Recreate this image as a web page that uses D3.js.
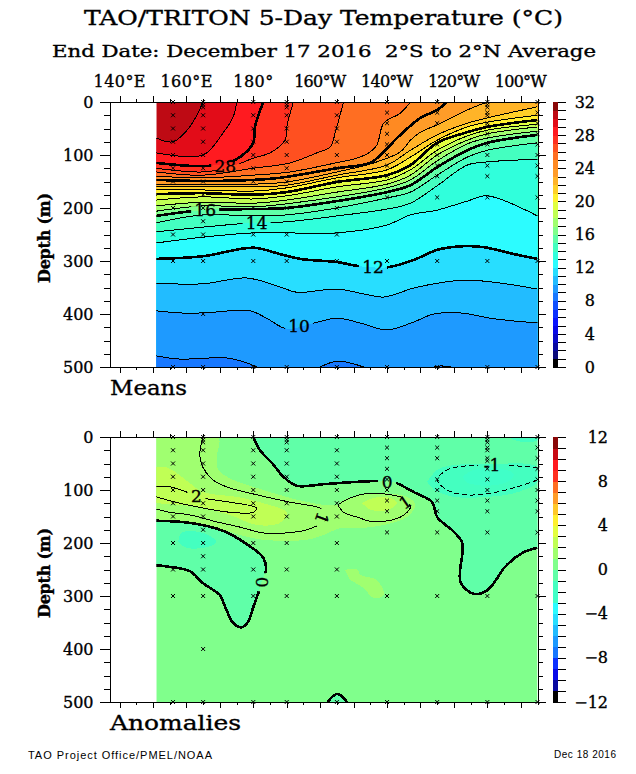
<!DOCTYPE html>
<html>
<head>
<meta charset="utf-8">
<script src="https://cdnjs.cloudflare.com/ajax/libs/d3/7.8.5/d3.min.js"></script>
<style>
  html, body { margin: 0; padding: 0; background: #fff; }
  svg { display: block; }
  text { font-family: "DejaVu Serif", serif; fill: #000; stroke: #000; stroke-width: 0.35px; }
  .small-print { font-family: "Liberation Sans", sans-serif; stroke: none; }
  .axis path, .axis line { stroke: #000; shape-rendering: crispEdges; }
  .band, .contour { shape-rendering: crispEdges; }
  .contour { fill: none; stroke: #000; }
</style>
</head>
<body>
<script>
//longitudes in degrees east, depths in metres
var lonTicks = d3.range(140, 266, 5),
    lonLabels = ['140°E', '160°E', '180°', '160°W', '140°W', '120°W', '100°W'],
    lonLabelValues = [140, 160, 180, 200, 220, 240, 260],
    depthTicks = d3.range(0, 501, 25);

//band colours, coldest first: one per degree of the colour bar
var tempColors = ['#000000', '#0a0a7a', '#0808a0', '#0808c8', '#0808e8', '#0a14ff', '#0c30ff', '#1050ff',
  '#1878ff', '#1e9aff', '#22bcff', '#28deff', '#2cfcff', '#30ffdc', '#44ffc0', '#60ffa8',
  '#80ff8c', '#a0ff70', '#c0ff55', '#e0ff40', '#fff02e', '#ffd028', '#ffb428', '#ff9c28',
  '#ff8a22', '#ff6e22', '#ff5020', '#ff3020', '#ff1a20', '#e20c18', '#be0a14', '#8a0808'];
var anomColors = ['#000000', '#0808a0', '#0808e8', '#0c30ff', '#1878ff', '#1e9aff', '#22bcff', '#28deff',
  '#2cfcff', '#40ffc8', '#44ffc0', '#60ffa8', '#80ff8c', '#a0ff70', '#c0ff55', '#e4ff40',
  '#fff02e', '#ffc828', '#ff9c28', '#ff6e22', '#ff3020', '#ff1a20', '#c80a14', '#8a0808'];

//isotherm depths read at these longitudes
var lonCols = [151, 165, 180, 190, 205, 220, 227, 235, 244, 250, 265];
var iso22 = [160, 160, 160, 157, 138, 119, 91, 62, 40, 30, 9],
    iso21 = [166, 166, 168, 162, 143, 128, 104, 72, 47, 38, 25],
    iso20 = [174, 172, 175, 170, 151, 138, 119, 77, 57, 47, 34],
    iso19 = [185, 179, 183, 177, 160, 147, 128, 91, 64, 53, 42],
    iso18 = [196, 189, 191, 185, 170, 155, 138, 100, 72, 60, 47],
    iso17 = [206, 196, 198, 192, 179, 162, 147, 111, 79, 68, 55],
    iso16 = [215, 204, 202, 200, 187, 170, 157, 123, 91, 77, 62],
    iso15 = [228, 213, 215, 213, 200, 181, 170, 138, 104, 91, 77],
    iso14 = [245, 236, 228, 226, 215, 202, 191, 158, 119, 113, 108],
    iso13 = [266, 255, 247, 247, 247, 232, 213, 204, 187, 177, 215];

//isotherms that reach the surface or wiggle: [lon, depth]
var iso30 = [[151, 68], [156, 75], [161, 47], [165, 0]],
    iso29 = [[151, 96], [165, 100], [171, 58], [174, 28], [175, 0]],
    iso28 = [[151, 115], [164, 121], [171, 117], [176, 104], [180, 77], [180.5, 47], [183, 0]],
    iso27 = [[151, 125], [165, 132], [173, 123], [180, 106], [185, 96], [189.5, 72], [190, 47], [192, 0]],
    iso26 = [[151, 132], [165, 138], [180, 125], [191, 115], [199, 96], [203, 85], [204.5, 58], [205.3, 40], [207, 0]],
    iso25 = [[151, 140], [165, 143], [180, 138], [191, 132], [206, 113], [211, 106], [215, 94], [217, 81], [219, 40], [224, 21], [227, 0]],
    iso24 = [[151, 147], [165, 149], [180, 147], [188, 143], [205, 125], [215, 115], [218, 100], [224, 62], [230, 30], [235, 15], [238, 0]],
    iso23 = [[151, 155], [165, 155], [180, 155], [190, 151], [205, 132], [216, 115], [224, 94], [227, 72], [230, 57], [235, 43], [244, 15], [250, 0]],
    iso12 = [[151, 296], [165, 291], [180, 275], [188, 287], [194, 296], [205, 302], [212, 310], [220, 312], [228, 298], [235, 279], [243, 272], [249, 274], [258, 287], [265, 296]],
    iso11 = [[151, 342], [165, 343], [178, 332], [188, 349], [193, 359], [205, 353], [213, 362], [219, 368], [228, 351], [235, 342], [243, 336], [252, 340], [265, 353]],
    iso10 = [[151, 394], [158, 398], [165, 398], [179, 394], [184, 408], [190, 428], [197, 419], [205, 408], [212, 417], [220, 430], [228, 415], [234, 400], [242, 398], [252, 409], [265, 417]],
    iso9a = [[151, 479], [158, 485], [172, 483], [178, 492], [181, 500]],
    iso9b = [[200, 500], [205.3, 489], [213, 500]],
    iso9c = [[234, 500], [236, 498], [239, 500]];

var meanLevels = [30, 29, 28, 27, 26, 25, 24, 23, 22, 21, 20, 19, 18, 17, 16, 15, 14, 13, 12, 11, 10, 9, 9, 9];
var meanLines = [iso30, iso29, iso28, iso27, iso26, iso25, iso24, iso23,
  d3.zip(lonCols, iso22), d3.zip(lonCols, iso21), d3.zip(lonCols, iso20), d3.zip(lonCols, iso19),
  d3.zip(lonCols, iso18), d3.zip(lonCols, iso17), d3.zip(lonCols, iso16), d3.zip(lonCols, iso15),
  d3.zip(lonCols, iso14), d3.zip(lonCols, iso13), iso12, iso11, iso10, iso9a, iso9b, iso9c];

var meanLabelText = ['28', '16', '14', '12', '10'],
    meanLabelLon = [171.6, 165.6, 181, 215.8, 193.7],
    meanLabelDepth = [121, 204, 228, 311, 423],
    meanLabelAngle = [0, 0, 0, 0, 0];

//anomaly contours
var zero1 = [[180, 0], [182, 25], [185.6, 49], [189, 75], [193, 92], [201, 89], [210, 85], [218.5, 83], [222, 85], [228, 104], [233.5, 123], [235, 151], [240, 179], [242.5, 200], [242, 274], [246, 296], [250, 289], [253, 266], [255, 247], [260.4, 219], [265, 209]],
    zero2 = [[151, 158], [161, 162], [171, 177], [178, 202], [183, 228], [183.8, 251], [182.6, 270], [182, 285], [180, 321], [178.4, 349], [176.6, 359], [174, 351], [171, 311], [170, 298], [165, 276], [161, 253], [155, 245], [151, 242]],
    zero3 = [[202.3, 500], [203.8, 489], [205, 485], [206.5, 489], [208, 500]],
    one1 = [[165, 0], [164, 34], [165, 58], [168, 81], [172, 94], [181, 109], [191, 123], [200, 134], [201.5, 142], [201.5, 157], [196, 175], [190, 181], [183, 181], [176, 170], [169, 160], [161, 147], [155, 142], [151, 136]],
    one2 = [[205.3, 128], [209, 115], [215, 106], [224, 113], [225, 117], [227, 132], [224, 151], [216, 160], [211, 151], [207, 142], [205.3, 128]],
    two1 = [[151, 94], [155, 94], [161, 106], [165, 115], [173, 123], [181, 134], [180, 142], [173, 142], [165, 134], [158, 125], [151, 113]],
    minusOne = [[265, 58], [255, 53], [249, 53], [243, 55], [238, 62], [235, 81], [238, 100], [243, 109], [251, 106], [259, 94], [265, 81]];

//anomaly colour patches that do not follow a drawn contour
var pos1a = [[151, 0], [169.5, 0], [169, 40], [169.5, 62], [174, 81], [181, 96], [191, 115], [201, 128], [205, 128], [207, 119], [214, 106], [219, 106], [226, 113], [228.5, 128], [226, 151], [219, 166], [212, 172], [206, 172], [201, 185], [196, 194], [183, 194], [176, 185], [171, 175], [161, 166], [151, 157]],
    pos1b = [[207.4, 251], [211, 249], [212, 260], [217, 270], [219, 298], [216, 304], [213, 285], [209, 270]],
    pos2a = [[151, 57], [154.5, 58], [161, 87], [165, 104], [175, 113], [183, 125], [190, 143], [188, 162], [181, 166], [173, 147], [165, 134], [158, 128], [151, 125]],
    pos2b = [[212.5, 125], [216, 115], [221, 115], [223, 125], [220, 138], [215, 138]],
    neg2a = [[232, 85], [235, 62], [240, 53], [250, 51], [265, 57], [265, 85], [258, 106], [250, 113], [240, 113], [234, 100]],
    neg2b = [[256, 0], [260, 9], [265, 6], [265, 0]],
    neg2c = [[158, 185], [159, 179], [165, 181], [169, 198], [166, 208], [160, 209], [157.5, 198]],
    neg3a = [[242.5, 75], [246, 62], [254, 60], [258, 70], [256, 85], [249, 92], [244, 87]];

var anomLabelText = ['2', '0', '-1', '1', '1', '0'],
    anomLabelLon = [163, 220, 251.4, 225.4, 200.5, 182.6],
    anomLabelDepth = [111, 85, 53, 123, 153, 274],
    anomLabelAngle = [0, 0, 0, -35, 110, 90];

//moored sensors
var mooringLons = [156, 165, 180, 190, 205, 220, 235, 250, 265];
var mooringDepths = [
  [0, 25, 50, 75, 100, 125, 150, 200, 250, 300, 500],
  [0, 5, 10, 25, 50, 75, 100, 125, 150, 175, 200, 225, 250, 300, 400, 500],
  [0, 25, 50, 75, 100, 125, 150, 200, 250, 300, 500],
  [0, 5, 10, 25, 50, 75, 100, 125, 150, 200, 250, 300, 500],
  [0, 25, 50, 75, 100, 125, 150, 200, 250, 300, 500],
  [0, 20, 40, 60, 80, 100, 120, 140, 180, 300, 500],
  [0, 20, 40, 80, 100, 120, 140, 180, 300, 500],
  [0, 5, 10, 20, 25, 40, 45, 60, 80, 100, 120, 140, 180, 300, 500],
  [0, 20, 40, 60, 80, 100, 120, 140, 180, 300, 500]
];

var width = 636,
    height = 774,
    lonMin = 151,
    lonMax = 265;

var svg = d3.select('body').append('svg')
    .attr('width', width)
    .attr('height', height);

var x = d3.scaleLinear().domain([137, 265]).range([109.5, 537.5]);
var yMean = d3.scaleLinear().domain([0, 500]).range([102, 367]);
var yAnom = d3.scaleLinear().domain([0, 500]).range([437, 702]);

//title block
var addText = function(str, tx, ty, size, len){
  return svg.append('text')
      .attr('x', tx)
      .attr('y', ty)
      .attr('font-size', size)
      .attr('textLength', len)
      .attr('lengthAdjust', 'spacingAndGlyphs')
      .text(str);
};
addText('TAO/TRITON 5-Day Temperature (°C)', 84, 25, 21, 479);
addText('End Date: December 17 2016  2°S to 2°N Average', 52, 57, 17, 544).attr('xml:space', 'preserve');
addText('Means', 110, 395, 21, 77);
addText('Anomalies', 110, 730, 21, 131);

svg.append('text').attr('class', 'small-print').attr('x', 28).attr('y', 759)
    .attr('font-size', 11).attr('textLength', 184)
    .text('TAO Project Office/PMEL/NOAA');
svg.append('text').attr('class', 'small-print').attr('x', 554).attr('y', 758)
    .attr('font-size', 10).attr('textLength', 62)
    .text('Dec 18 2016');

var drawPanel = function(name, y){
  var g = svg.append('g').attr('class', name);

  g.append('clipPath').attr('id', name + 'Clip')
    .append('rect')
      .attr('x', x(lonMin))
      .attr('y', y(0))
      .attr('width', x(lonMax) - x(lonMin))
      .attr('height', y(500) - y(0));

  var line = d3.line()
      .x(function(d){ return x(d[0]); })
      .y(function(d){ return y(d[1]); })
      .curve(d3.curveCatmullRom.alpha(0.5));

  return { g: g, y: y, line: line, name: name };
};

//colour under an isotherm: everything below and east of it
var closeBelow = function(panel, pts){
  var last = pts[pts.length - 1],
      extra = [];
  if (last[1] === 0) extra.push([lonMax, 0]);
  if (last[1] < 500) extra.push([lonMax, 500]);
  if (pts[0][0] === lonMin) extra.push([lonMin, 500]);
  return panel.line(pts) + extra.map(function(d){
    return 'L' + x(d[0]) + ',' + panel.y(d[1]);
  }).join('') + 'Z';
};

var addBand = function(panel, path, color){
  panel.bands.append('path')
      .attr('class', 'band')
      .attr('d', path)
      .attr('fill', color);
};

var addContour = function(panel, pts, w, dash){
  panel.lines.append('path')
      .attr('class', 'contour')
      .attr('d', panel.line(pts))
      .attr('stroke-width', w)
      .attr('stroke-dasharray', dash || null);
};

var addLayers = function(panel, baseColor){
  panel.bands = panel.g.append('g').attr('clip-path', 'url(#' + panel.name + 'Clip)');
  panel.bands.append('rect')
      .attr('x', x(lonMin))
      .attr('y', panel.y(0))
      .attr('width', x(lonMax) - x(lonMin))
      .attr('height', panel.y(500) - panel.y(0))
      .attr('fill', baseColor);
  panel.lineClip = panel.g.append('g').attr('clip-path', 'url(#' + panel.name + 'Clip)');
  panel.lines = panel.lineClip.append('g').attr('mask', 'url(#' + panel.name + 'Mask)');
};

//contour labels, with the contour lines masked out under them
var addLabels = function(panel, texts, lons, depths, angles){
  var mask = panel.g.append('mask')
      .attr('id', panel.name + 'Mask')
      .attr('maskUnits', 'userSpaceOnUse')
      .attr('x', 0).attr('y', 0)
      .attr('width', width).attr('height', height);
  mask.append('rect').attr('width', width).attr('height', height).attr('fill', '#fff');

  texts.forEach(function(t, i){
    var tx = x(lons[i]),
        ty = panel.y(depths[i]),
        half = t.length * 5 + 4;
    mask.append('rect')
        .attr('x', -half).attr('y', -4)
        .attr('width', half * 2).attr('height', 8)
        .attr('fill', '#000')
        .attr('transform', 'translate(' + tx + ',' + ty + ') rotate(' + angles[i] + ')');
    panel.g.append('text')
        .attr('class', 'contour-label')
        .attr('text-anchor', 'middle')
        .attr('dy', '0.36em')
        .attr('font-size', 17)
        .attr('transform', 'translate(' + tx + ',' + ty + ') rotate(' + angles[i] + ')')
        .text(t);
  });
};

var addFrame = function(panel, showLon){
  var y = panel.y;
  var top = panel.g.append('g').attr('class', 'axis')
      .attr('transform', 'translate(0,' + y(0) + ')')
      .call(d3.axisTop(x).tickValues(lonTicks).tickSizeOuter(0).tickFormat(''));
  var bottom = panel.g.append('g').attr('class', 'axis')
      .attr('transform', 'translate(0,' + y(500) + ')')
      .call(d3.axisBottom(x).tickValues(lonTicks).tickSizeOuter(0).tickFormat(''));
  top.selectAll('.tick line').attr('y2', function(d){ return d % 10 === 0 ? -6 : -3; });
  bottom.selectAll('.tick line').attr('y2', function(d){ return d % 10 === 0 ? 6 : 3; });

  var left = panel.g.append('g').attr('class', 'axis')
      .attr('transform', 'translate(' + x(137) + ',0)')
      .call(d3.axisLeft(y).tickValues(depthTicks).tickSizeOuter(0)
        .tickFormat(function(d){ return d % 100 === 0 ? d : ''; }));
  left.selectAll('.tick line').attr('x2', function(d){ return d % 100 === 0 ? -10 : -6; });
  left.selectAll('.tick text')
      .attr('x', -16)
      .attr('font-size', 16)
      .style('font-family', '"DejaVu Serif", serif');

  var right = panel.g.append('g').attr('class', 'axis')
      .attr('transform', 'translate(' + x(265) + ',0)')
      .call(d3.axisRight(y).tickValues(depthTicks).tickSizeOuter(0).tickFormat(''));
  right.selectAll('.tick line').attr('x2', function(d){ return d % 100 === 0 ? 8 : 5; });

  panel.g.append('text')
      .attr('text-anchor', 'middle')
      .attr('transform', 'translate(50,' + (y(0) + 136) + ') rotate(-90)')
      .attr('font-size', 16)
      .attr('font-weight', 'bold')
      .attr('textLength', 90)
      .text('Depth (m)');

  if (showLon){
    panel.g.append('g')
        .selectAll('text')
        .data(lonLabels)
      .enter().append('text')
        .attr('x', function(d, i){ return x(lonLabelValues[i]); })
        .attr('y', y(0) - 15)
        .attr('text-anchor', 'middle')
        .attr('font-size', 16)
        .attr('textLength', function(d){ return d.length === 4 ? 40 : 52; })
        .text(function(d){ return d; });
  }
};

var addMoorings = function(panel){
  var symbol = d3.symbol().type(d3.symbolTimes).size(12);
  mooringLons.forEach(function(lon, i){
    panel.g.append('g').selectAll('path')
        .data(mooringDepths[i])
      .enter().append('path')
        .attr('d', symbol)
        .attr('fill', 'none')
        .attr('stroke', '#000')
        .attr('stroke-width', 1)
        .attr('transform', function(d){ return 'translate(' + x(lon) + ',' + panel.y(d) + ')'; });
  });
};

//colour bar on the right of each panel
var addColorBar = function(panel, domain, colors, labelX){
  var bar = d3.scaleLinear().domain(domain).range([panel.y(500), panel.y(0)]);
  panel.g.append('g').selectAll('rect')
      .data(colors)
    .enter().append('rect')
      .attr('x', 553)
      .attr('width', 5)
      .attr('y', function(d, i){ return bar(domain[0] + i + 1); })
      .attr('height', function(d, i){ return bar(domain[0] + i) - bar(domain[0] + i + 1) + 0.5; })
      .attr('fill', function(d){ return d; })
      .attr('shape-rendering', 'crispEdges');
  var axis = panel.g.append('g').attr('class', 'axis')
      .attr('transform', 'translate(558,0)')
      .call(d3.axisRight(bar).tickValues(d3.range(domain[0], domain[1] + 1)).tickSize(8).tickSizeOuter(0)
        .tickFormat(function(d){ return d % 4 === 0 ? String(d).replace('-', '\u2212') : ''; }));
  axis.select('.domain').remove();
  axis.selectAll('.tick text')
      .attr('x', labelX - 558)
      .attr('text-anchor', 'end')
      .attr('font-size', 16)
      .style('font-family', '"DejaVu Serif", serif');
};

//means panel
var mean = drawPanel('mean', yMean);
addLayers(mean, tempColors[30]);
meanLevels.forEach(function(level, i){
  addBand(mean, closeBelow(mean, meanLines[i]), tempColors[level - 1]);
  addContour(mean, meanLines[i], level % 4 === 0 ? 2.6 : 1);
});
addLabels(mean, meanLabelText, meanLabelLon, meanLabelDepth, meanLabelAngle);
addFrame(mean, true);
addMoorings(mean);
addColorBar(mean, [0, 32], tempColors, 595);

//anomalies panel
var anom = drawPanel('anom', yAnom);
var anomColor = function(v){ return anomColors[v + 12]; };
addLayers(anom, anomColor(0));
[pos1a, pos1b].forEach(function(p){ addBand(anom, anom.line(p) + 'Z', anomColor(1)); });
[pos2a, pos2b].forEach(function(p){ addBand(anom, anom.line(p) + 'Z', anomColor(2)); });
addBand(anom, anom.line(zero1) + 'L' + x(lonMax) + ',' + yAnom(0) + 'Z', anomColor(-1));
[zero2, zero3].forEach(function(p){ addBand(anom, anom.line(p) + 'Z', anomColor(-1)); });
[neg2a, neg2b, neg2c].forEach(function(p){ addBand(anom, anom.line(p) + 'Z', anomColor(-2)); });
addBand(anom, anom.line(neg3a) + 'Z', anomColor(-3));

[zero1, zero2, zero3].forEach(function(p){ addContour(anom, p, 2.6); });
[one1, one2, two1].forEach(function(p){ addContour(anom, p, 1); });
addContour(anom, minusOne, 1, '5,3');
addLabels(anom, anomLabelText, anomLabelLon, anomLabelDepth, anomLabelAngle);
addFrame(anom, false);
addMoorings(anom);
addColorBar(anom, [-12, 12], anomColors, 608);
</script>
</body>
</html>
